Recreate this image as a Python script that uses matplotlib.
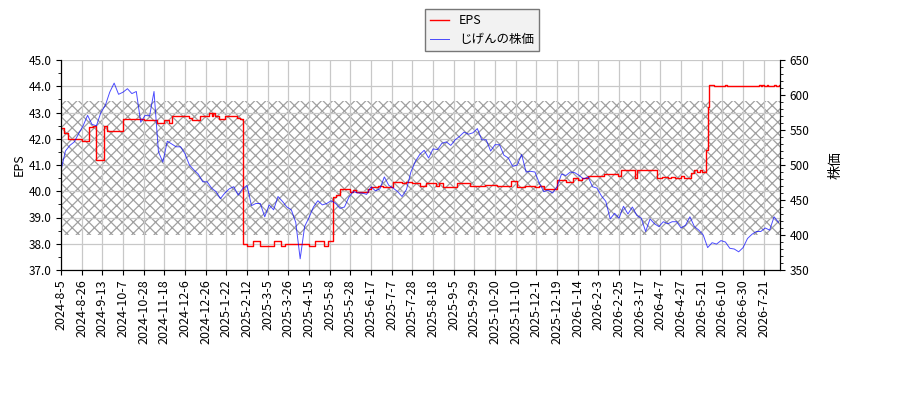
import numpy as np
import matplotlib.pyplot as plt
from matplotlib.ticker import MultipleLocator

plt.rcParams['font.family'] = ['Noto Sans CJK JP', 'DejaVu Sans']
plt.rcParams['hatch.linewidth'] = 0.9

# 横軸ラベル（14営業日ごと）
tick_labels = ['2024-8-5', '2024-8-26', '2024-9-13', '2024-10-7', '2024-10-28', '2024-11-18',
               '2024-12-6', '2024-12-26', '2025-1-22', '2025-2-12', '2025-3-5', '2025-3-26',
               '2025-4-15', '2025-5-8', '2025-5-28', '2025-6-17', '2025-7-7', '2025-7-28',
               '2025-8-18', '2025-9-5', '2025-9-29', '2025-10-20', '2025-11-10', '2025-12-1',
               '2025-12-19', '2026-1-14', '2026-2-3', '2026-2-25', '2026-3-17', '2026-4-7',
               '2026-4-27', '2026-5-21', '2026-6-10', '2026-6-30', '2026-7-21']
tick_step = 14
n_days = 487

# 株価（3営業日ごとの読み取り値）
price_step = 3
price = [492, 520, 528, 533, 545, 556, 571, 558, 556, 575, 585, 604, 617, 601, 604, 609,
         602, 605, 561, 571, 570, 605, 519, 504, 534, 530, 526, 526, 516, 500, 493, 487,
         476, 476, 467, 462, 452, 460, 466, 469, 457, 466, 471, 442, 445, 445, 426, 443,
         436, 455, 448, 440, 436, 418, 366, 412, 425, 440, 449, 443, 445, 449, 445, 438,
         440, 454, 462, 460, 460, 458, 469, 463, 466, 483, 471, 467, 462, 455, 465, 490,
         505, 515, 521, 510, 523, 522, 531, 533, 528, 536, 541, 547, 544, 546, 552, 536,
         536, 520, 529, 529, 514, 510, 498, 500, 515, 490, 491, 490, 474, 462, 464, 460,
         469, 487, 485, 490, 489, 485, 480, 483, 469, 467, 456, 448, 423, 431, 424, 441,
         430, 440, 428, 424, 405, 423, 416, 412, 419, 416, 419, 419, 410, 414, 426, 412,
         407, 400, 382, 389, 387, 392, 390, 381, 380, 376, 382, 395, 401, 405, 405, 410,
         407, 426, 418]

# EPS（変化した営業日と値）
eps_start = [0, 2, 5, 14, 19, 22, 24, 29, 31, 42, 56, 65, 70, 73, 75, 87, 89, 94, 100, 102,
             103, 104, 107, 111, 119, 121, 123, 126, 130, 135, 144, 149, 152, 168, 172, 178,
             181, 184, 186, 189, 196, 198, 200, 208, 210, 215, 218, 225, 231, 234, 238, 243,
             247, 254, 256, 259, 268, 277, 287, 295, 305, 309, 314, 321, 324, 327, 336, 342,
             347, 350, 353, 357, 368, 377, 379, 389, 390, 404, 407, 411, 413, 416, 420, 422,
             427, 429, 431, 433, 434, 437, 438, 439, 442, 450, 451, 473, 474, 475, 476, 478,
             479, 483, 484, 486]
eps_value = [42.4, 42.2, 42.0, 41.9, 42.45, 42.5, 41.2, 42.5, 42.3, 42.75, 42.7, 42.6, 42.7,
             42.6, 42.88, 42.78, 42.72, 42.88, 42.97, 42.88, 43.0, 42.88, 42.74, 42.88, 42.78,
             42.74, 38.0, 37.9, 38.1, 37.9, 38.1, 37.9, 38.0, 37.9, 38.1, 37.9, 38.1, 39.79,
             39.86, 40.07, 39.98, 40.05, 39.98, 40.07, 40.15, 40.2, 40.15, 40.36, 40.3, 40.36,
             40.3, 40.2, 40.3, 40.2, 40.3, 40.15, 40.3, 40.2, 40.25, 40.2, 40.4, 40.15, 40.2,
             40.15, 40.2, 40.07, 40.43, 40.36, 40.49, 40.43, 40.49, 40.58, 40.66, 40.6, 40.8,
             40.49, 40.8, 40.49, 40.56, 40.49, 40.56, 40.49, 40.6, 40.49, 40.68, 40.8, 40.74,
             40.8, 40.74, 41.57, 43.2, 44.05, 44.0, 44.05, 44.0, 44.05, 44.0, 44.05, 44.0,
             44.05, 44.0, 44.05, 44.0, 44.05]

# 網掛けの範囲（EPS軸）
band_low, band_high = 38.33, 43.45

fig = plt.figure(figsize=(9, 4), dpi=100)
ax = fig.add_axes([61 / 900, 0.325, 719 / 900, 0.525])
ax2 = ax.twinx()

ax.axhspan(band_low, band_high, facecolor='none', edgecolor='#a0a0a0', hatch='xxx',
           linewidth=0, zorder=0)
ax.grid(True, color='#c8c8c8', linewidth=0.9, zorder=1)
ax.set_axisbelow(True)

eps_x = eps_start + [n_days]
eps_y = eps_value + [eps_value[-1]]
l1, = ax.plot(eps_x, eps_y, color='red', linewidth=1.0, drawstyle='steps-post', label='EPS')

px = np.arange(len(price)) * price_step
l2, = ax2.plot(px, price, color='blue', alpha=0.7, linewidth=0.7, label='じげんの株価')

ax.set_xlim(0, n_days)
ax.set_ylim(37, 45)
ax2.set_ylim(350, 650)
ax.yaxis.set_major_locator(MultipleLocator(1.0))
ax.yaxis.set_minor_locator(MultipleLocator(0.5))
ax.yaxis.set_major_formatter(plt.FormatStrFormatter('%.1f'))
ax2.yaxis.set_major_locator(MultipleLocator(50))
ax2.yaxis.set_minor_locator(MultipleLocator(10))

ax.set_xticks(np.arange(len(tick_labels)) * tick_step)
ax.set_xticklabels(tick_labels, rotation=90)

for a in (ax, ax2):
    a.spines['top'].set_visible(False)
    a.tick_params(labelsize=8.5)
ax.tick_params(axis='x', labelsize=9)

ax.set_ylabel('EPS', fontsize=9, labelpad=2)
ax2.set_ylabel('株価', fontsize=10, labelpad=14)

fig.legend(handles=[l1, l2], loc='upper center', bbox_to_anchor=(482 / 900, 1 - 9 / 400),
           borderaxespad=0, fontsize=9, handlelength=1.5, frameon=True, fancybox=False,
           facecolor='#f2f2f2', edgecolor='#777777', framealpha=1)

fig.savefig('out.png', dpi=100)
